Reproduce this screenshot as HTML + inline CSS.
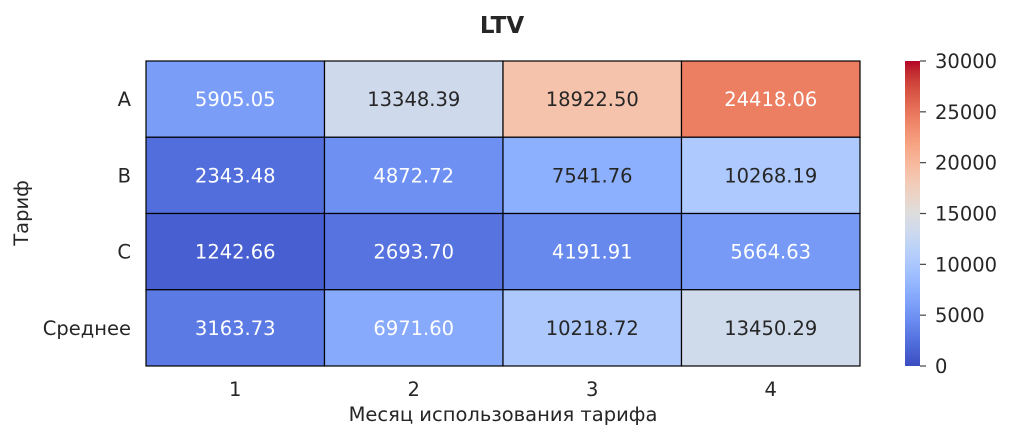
<!DOCTYPE html>
<html><head><meta charset="utf-8"><style>
body{margin:0;background:#fff;}
svg{display:block;font-family:"DejaVu Sans","Liberation Sans",sans-serif;}
</style></head><body>
<svg id="c" width="1012" height="440">
<defs><linearGradient id="cg" x1="0" y1="1" x2="0" y2="0"></linearGradient></defs>
<text x="502" y="33" text-anchor="middle" font-size="23" font-weight="bold" fill="#262626">LTV</text>
<text x="503" y="421" text-anchor="middle" font-size="19.5" fill="#262626">Месяц использования тарифа</text>
<text transform="translate(28,213) rotate(-90)" text-anchor="middle" font-size="19.5" fill="#262626">Тариф</text>
<g id="cells"></g>
<g id="cbar"></g>
</svg>
<script>
const rows = ["A","B","C","Среднее"];
const cols = ["1","2","3","4"];
const valuesA = [5905.05,13348.39,18922.50,24418.06];
const valuesB = [2343.48,4872.72,7541.76,10268.19];
const valuesC = [1242.66,2693.70,4191.91,5664.63];
const valuesAvg = [3163.73,6971.60,10218.72,13450.29];
const cbarTicks = [0,5000,10000,15000,20000,25000,30000];
const vmin = 0, vmax = 30000;
const series = [valuesA,valuesB,valuesC,valuesAvg];

const CM=[[59,76,192],[68,90,204],[77,104,215],[87,117,225],[98,130,234],[108,142,241],[119,154,247],[130,165,251],[141,176,254],[152,185,255],[163,194,255],[174,201,253],[184,208,249],[194,213,244],[204,217,238],[213,219,230],[221,221,221],[229,216,209],[236,211,197],[241,204,185],[245,196,173],[247,187,160],[247,177,148],[247,166,135],[244,154,123],[241,141,111],[236,127,99],[229,112,88],[222,96,77],[213,80,66],[203,62,56],[192,40,47],[180,4,38]];
function cmap(t){t=Math.max(0,Math.min(1,t));const p=t*32,i=Math.min(31,Math.floor(p)),f=p-i;
return CM[i].map((c,k)=>c+(CM[i+1][k]-c)*f);}
function lum(c){const l=c.map(v=>{v/=255;return v<=0.03928?v/12.92:Math.pow((v+0.055)/1.055,2.4)});return 0.2126*l[0]+0.7152*l[1]+0.0722*l[2];}
const NS="http://www.w3.org/2000/svg";
function mk(t,a,p){const e=document.createElementNS(NS,t);for(const k in a)e.setAttribute(k,a[k]);p.appendChild(e);return e;}
const X0=146,X1=860,Y0=61,Y1=366;
const cw=(X1-X0)/cols.length, ch=(Y1-Y0)/rows.length;
const xs=i=>X0+i*cw, ys=j=>Y0+j*ch;
const g=document.getElementById('cells');
series.forEach((vals,j)=>{
  vals.forEach((v,i)=>{
    const c=cmap((v-vmin)/(vmax-vmin));
    const r=mk('rect',{x:xs(i),y:ys(j),width:cw,height:ch,fill:`rgb(${c.map(Math.round).join(',')})`,stroke:'#000','stroke-width':1.2},g);
    
    
    const t=mk('text',{x:xs(i)+cw/2,y:ys(j)+ch/2+7,'text-anchor':'middle','font-size':19.5,fill:lum(c)>0.42?'#262626':'#ffffff'},g);
    t.textContent=v.toFixed(2);
    
    
  });
  const yl=mk('text',{x:131,y:ys(j)+ch/2+7,'text-anchor':'end','font-size':19.5,fill:'#262626'},g);
  yl.textContent=rows[j];
  
  
});
cols.forEach((c,i)=>{
  const t=mk('text',{x:xs(i)+cw/2,y:396,'text-anchor':'middle','font-size':19.5,fill:'#262626'},g);
  t.textContent=c;
  
  
});
const grad=document.getElementById('cg');
for(let k=0;k<=32;k++){mk('stop',{offset:k/32,'stop-color':`rgb(${CM[k].join(',')})`},grad);}
const cb=document.getElementById('cbar');
const CX=905,CW=15;
const cy=v=>Y1-(v-vmin)/(vmax-vmin)*(Y1-Y0);
const bar=mk('rect',{x:CX,y:Y0,width:CW,height:Y1-Y0,fill:'url(#cg)'},cb);


cbarTicks.forEach(v=>{
  mk('line',{x1:CX+CW,x2:CX+CW+6,y1:cy(v),y2:cy(v),stroke:'#444','stroke-width':1.2},cb);
  const t=mk('text',{x:935,y:cy(v)+7,'font-size':19.5,fill:'#262626'},cb);
  t.textContent=v;
  
  
});
</script>
</body></html>
